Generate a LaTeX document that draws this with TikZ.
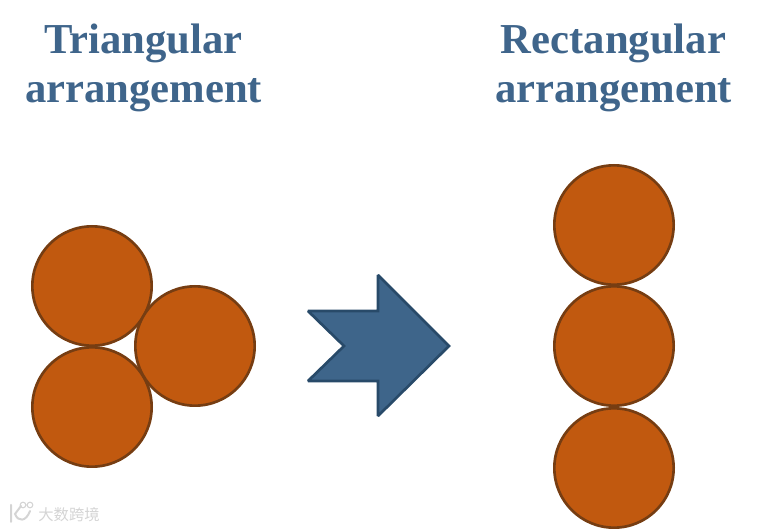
\documentclass[tikz,border=0pt]{standalone}
\usepackage{fontspec}
\setmainfont{Liberation Serif}
\newfontfamily\cjk{Noto Sans CJK SC}
\definecolor{titleblue}{HTML}{3F658B}
\definecolor{ballfill}{HTML}{C1590F}
\definecolor{balledge}{HTML}{763D12}
\definecolor{arrowfill}{HTML}{3E658A}
\definecolor{arrowedge}{HTML}{284A69}
\definecolor{markgray}{HTML}{D4D4D4}
\tikzset{
  ball/.style={circle,draw=balledge,fill=ballfill,line width=2pt,minimum size=89.5pt,inner sep=0pt},
  heading/.style={text=titleblue,align=center,font=\fontsize{32}{36.75}\selectfont\bfseries}
}
\begin{document}
\begin{tikzpicture}[x=0.75pt,y=-0.75pt]
  \useasboundingbox (0,0) rectangle (761,530);

  % titles
  \node[heading] (T) at (143.5,68) {Triangular\\arrangement};
  \node[heading] (R) at (613.5,68) {Rectangular\\arrangement};

  % left group
  \node[ball] (T1) at (92,286) {};
  \node[ball] (T2) at (92,407) {};
  \node[ball] (T3) at (195,346) {};

  % right group
  \node[ball] (R1) at (614,225) {};
  \node[ball] (R2) at (614,346) {};
  \node[ball] (R3) at (614,468) {};

  % arrow
  \coordinate (P1) at (378,275);
  \coordinate (P2) at (449,346);
  \coordinate (P3) at (378,416);
  \coordinate (P4) at (378,381);
  \coordinate (P5) at (308,381);
  \coordinate (P6) at (344,346);
  \coordinate (P7) at (308,311);
  \coordinate (P8) at (378,311);
  \draw[draw=arrowedge,fill=arrowfill,line width=2pt,miter limit=2]
    (P1) -- (P2) -- (P3) -- (P4) -- (P5) -- (P6) -- (P7) -- (P8) -- cycle;

  % watermark
  \draw[markgray,line width=1.5pt,line cap=round]
    (11,505) -- (11,522) (21,506) -- (15,514) .. controls (18,522) and (26,522) .. (30,511);
  \draw[markgray,line width=0.8pt] (23,505) circle (2.8) (30,505) circle (2.8);
  \node[text=markgray,font=\cjk\fontsize{11.5}{11.5}\selectfont,inner sep=0pt] (W) at (69,514.5) {大数跨境};
\end{tikzpicture}
\end{document}
